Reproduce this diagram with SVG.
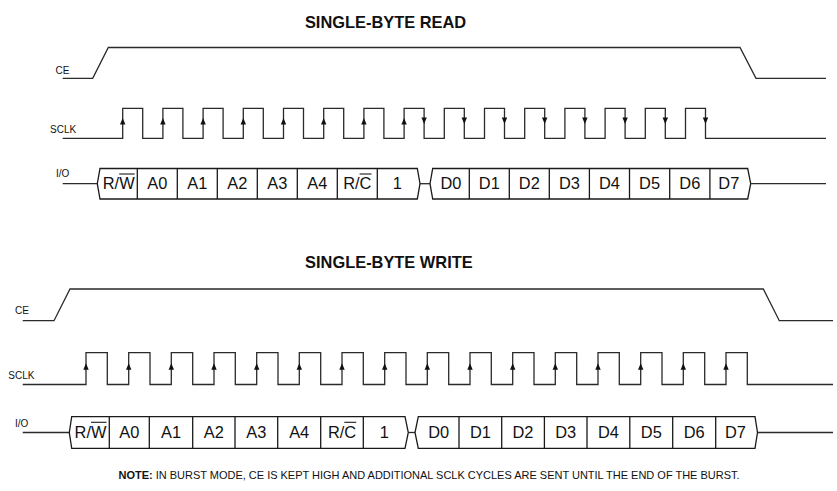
<svg xmlns="http://www.w3.org/2000/svg" xmlns:xlink="http://www.w3.org/1999/xlink" width="837" height="491" viewBox="0 0 837 491">
<style>
.w{fill:none;stroke:#2a2a2a;stroke-width:1.3;stroke-linejoin:miter}
.c{fill:none;stroke:#1a1a1a;stroke-width:1.3}
.ov{stroke:#1a1a1a;stroke-width:1.1}
.t{font-family:"Liberation Sans",Arial,sans-serif;font-size:16.4px;fill:#111;text-anchor:middle}
.ti{font-family:"Liberation Sans",Arial,sans-serif;font-size:16.4px;font-weight:bold;fill:#111;text-anchor:middle}
.lb{font-family:"Liberation Sans",Arial,sans-serif;font-size:10px;fill:#111}
.n{font-family:"Liberation Sans",Arial,sans-serif;font-size:11.5px;fill:#111}
.ar{fill:#111}
</style>
<defs>
<path id="up" class="ar" d="M0,0 L2.7,6.5 L-2.7,6.5 Z"/>
<path id="dn" class="ar" d="M0,0 L-2.7,-6.5 L2.7,-6.5 Z"/>
</defs>

<rect width="837" height="491" fill="#fff"/>

<!-- ===== SINGLE-BYTE READ ===== -->
<g id="read">
<text class="ti" x="385.5" y="27.7">SINGLE-BYTE READ</text>

<g id="read-ce">
<text class="lb" x="55.5" y="73.5">CE</text>
<polyline class="w" points="62.7,78.3 92.7,78.3 108.3,47.5 740,47.5 756,78.3 826,78.3"/>
</g>

<g id="read-sclk">
<text class="lb" x="50" y="132.7">SCLK</text>
<path class="w" d="M62.7,138.3 H122.7 V108.3 H142.7 V138.3 H162.9 V108.3 H182.9 V138.3 H203.1 V108.3 H223.1 V138.3 H243.3 V108.3 H263.3 V138.3 H283.5 V108.3 H303.5 V138.3 H323.7 V108.3 H343.7 V138.3 H363.9 V108.3 H383.9 V138.3 H404.1 V108.3 H424.1 V138.3 H444.3 V108.3 H464.3 V138.3 H484.5 V108.3 H504.5 V138.3 H524.7 V108.3 H544.7 V138.3 H564.9 V108.3 H584.9 V138.3 H605.1 V108.3 H625.1 V138.3 H645.3 V108.3 H665.3 V138.3 H685.5 V108.3 H705.5 V138.3 H826"/>
<use xlink:href="#up" x="122.7" y="118"/>
<use xlink:href="#up" x="162.9" y="118"/>
<use xlink:href="#up" x="203.1" y="118"/>
<use xlink:href="#up" x="243.3" y="118"/>
<use xlink:href="#up" x="283.5" y="118"/>
<use xlink:href="#up" x="323.7" y="118"/>
<use xlink:href="#up" x="363.9" y="118"/>
<use xlink:href="#up" x="404.1" y="118"/>
<use xlink:href="#dn" x="424.1" y="124"/>
<use xlink:href="#dn" x="464.3" y="124"/>
<use xlink:href="#dn" x="504.5" y="124"/>
<use xlink:href="#dn" x="544.7" y="124"/>
<use xlink:href="#dn" x="584.9" y="124"/>
<use xlink:href="#dn" x="625.1" y="124"/>
<use xlink:href="#dn" x="665.3" y="124"/>
<use xlink:href="#dn" x="705.5" y="124"/>
</g>

<g id="read-io">
<text class="lb" x="56" y="176.7">I/O</text>
<line class="w" x1="62.7" y1="183.7" x2="97.3" y2="183.7"/>
<polygon class="c" points="100,168.5 417.3,168.5 420,183.7 417.3,199 100,199 97.3,183.7"/>
<line class="w" x1="420" y1="183.7" x2="430" y2="183.7"/>
<polygon class="c" points="432.7,168.5 747.7,168.5 750.7,183.7 747.7,199 432.7,199 430,183.7"/>
<line class="w" x1="750.7" y1="183.7" x2="826" y2="183.7"/>
<path class="c" d="M137.3,168.5V199 M177.3,168.5V199 M217.3,168.5V199 M257.3,168.5V199 M297.3,168.5V199 M337.3,168.5V199 M377.3,168.5V199 M469.3,168.5V199 M509.3,168.5V199 M549.3,168.5V199 M589.4,168.5V199 M629.5,168.5V199 M669.7,168.5V199 M709.9,168.5V199"/>
<text class="t" x="118.7" y="189.3">R/W</text>
<line class="ov" x1="119.2" y1="174" x2="134.7" y2="174"/>
<text class="t" x="157.3" y="189.3">A0</text>
<text class="t" x="197.3" y="189.3">A1</text>
<text class="t" x="237.3" y="189.3">A2</text>
<text class="t" x="277.3" y="189.3">A3</text>
<text class="t" x="317.3" y="189.3">A4</text>
<text class="t" x="357.3" y="189.3">R/C</text>
<line class="ov" x1="359.6" y1="174" x2="371.5" y2="174"/>
<text class="t" x="397.3" y="189.3">1</text>
<text class="t" x="451" y="189.3">D0</text>
<text class="t" x="489.3" y="189.3">D1</text>
<text class="t" x="529.3" y="189.3">D2</text>
<text class="t" x="569.4" y="189.3">D3</text>
<text class="t" x="609.5" y="189.3">D4</text>
<text class="t" x="649.6" y="189.3">D5</text>
<text class="t" x="689.8" y="189.3">D6</text>
<text class="t" x="728.8" y="189.3">D7</text>
</g>
</g>

<!-- ===== SINGLE-BYTE WRITE ===== -->
<g id="write">
<text class="ti" x="388.9" y="267.7">SINGLE-BYTE WRITE</text>

<g id="write-ce">
<text class="lb" x="15" y="314.3">CE</text>
<polyline class="w" points="22.7,320.7 54,320.7 70,289 763.3,289 779.3,320.7 833,320.7"/>
</g>

<g id="write-sclk">
<text class="lb" x="8.3" y="379">SCLK</text>
<path class="w" d="M22.7,384.5 H86 V352.7 H107.3 V384.5 H128.7 V352.7 H150 V384.5 H171.3 V352.7 H192.7 V384.5 H214 V352.7 H235.3 V384.5 H256.7 V352.7 H278 V384.5 H299.3 V352.7 H320.7 V384.5 H342 V352.7 H363.3 V384.5 H384.7 V352.7 H406 V384.5 H427.3 V352.7 H448.7 V384.5 H470 V352.7 H491.3 V384.5 H512.7 V352.7 H534 V384.5 H555.3 V352.7 H576.7 V384.5 H598 V352.7 H619.3 V384.5 H640.7 V352.7 H662 V384.5 H683.3 V352.7 H704.7 V384.5 H726 V352.7 H747.3 V384.5 H833"/>
<use xlink:href="#up" x="86" y="363.3"/>
<use xlink:href="#up" x="128.7" y="363.3"/>
<use xlink:href="#up" x="171.3" y="363.3"/>
<use xlink:href="#up" x="214" y="363.3"/>
<use xlink:href="#up" x="256.7" y="363.3"/>
<use xlink:href="#up" x="299.3" y="363.3"/>
<use xlink:href="#up" x="342" y="363.3"/>
<use xlink:href="#up" x="384.7" y="363.3"/>
<use xlink:href="#up" x="427.3" y="363.3"/>
<use xlink:href="#up" x="470" y="363.3"/>
<use xlink:href="#up" x="512.7" y="363.3"/>
<use xlink:href="#up" x="555.3" y="363.3"/>
<use xlink:href="#up" x="598" y="363.3"/>
<use xlink:href="#up" x="640.7" y="363.3"/>
<use xlink:href="#up" x="683.3" y="363.3"/>
<use xlink:href="#up" x="726" y="363.3"/>
</g>

<g id="write-io">
<text class="lb" x="15" y="426.7">I/O</text>
<line class="w" x1="22.7" y1="432.5" x2="69.3" y2="432.5"/>
<polygon class="c" points="71.7,416.7 405,416.7 408.3,432.5 405,448.3 71.7,448.3 69.3,432.5"/>
<line class="w" x1="408.3" y1="432.5" x2="415" y2="432.5"/>
<polygon class="c" points="418.3,416.7 755,416.7 757.5,432.5 755,448.3 418.3,448.3 415,432.5"/>
<line class="w" x1="757.5" y1="432.5" x2="833" y2="432.5"/>
<path class="c" d="M109.3,416.7V448.3 M149.3,416.7V448.3 M192.7,416.7V448.3 M235,416.7V448.3 M277.7,416.7V448.3 M320.7,416.7V448.3 M363.3,416.7V448.3 M459,416.7V448.3 M501.7,416.7V448.3 M544.4,416.7V448.3 M587,416.7V448.3 M629.8,416.7V448.3 M672.7,416.7V448.3 M715.7,416.7V448.3"/>
<text class="t" x="90.5" y="437.7">R/W</text>
<line class="ov" x1="91" y1="422.3" x2="106.5" y2="422.3"/>
<text class="t" x="129.3" y="437.7">A0</text>
<text class="t" x="171" y="437.7">A1</text>
<text class="t" x="213.9" y="437.7">A2</text>
<text class="t" x="256.4" y="437.7">A3</text>
<text class="t" x="299.2" y="437.7">A4</text>
<text class="t" x="342" y="437.7">R/C</text>
<line class="ov" x1="344.3" y1="422.3" x2="356.2" y2="422.3"/>
<text class="t" x="384.2" y="437.7">1</text>
<text class="t" x="438.7" y="437.7">D0</text>
<text class="t" x="480.4" y="437.7">D1</text>
<text class="t" x="523" y="437.7">D2</text>
<text class="t" x="565.7" y="437.7">D3</text>
<text class="t" x="608.4" y="437.7">D4</text>
<text class="t" x="651.3" y="437.7">D5</text>
<text class="t" x="694.2" y="437.7">D6</text>
<text class="t" x="735.4" y="437.7">D7</text>
</g>
</g>

<text class="n" x="118.5" y="478.5" textLength="621" lengthAdjust="spacingAndGlyphs"><tspan font-weight="bold">NOTE:</tspan> IN BURST MODE, CE IS KEPT HIGH AND ADDITIONAL SCLK CYCLES ARE SENT UNTIL THE END OF THE BURST.</text>
</svg>
